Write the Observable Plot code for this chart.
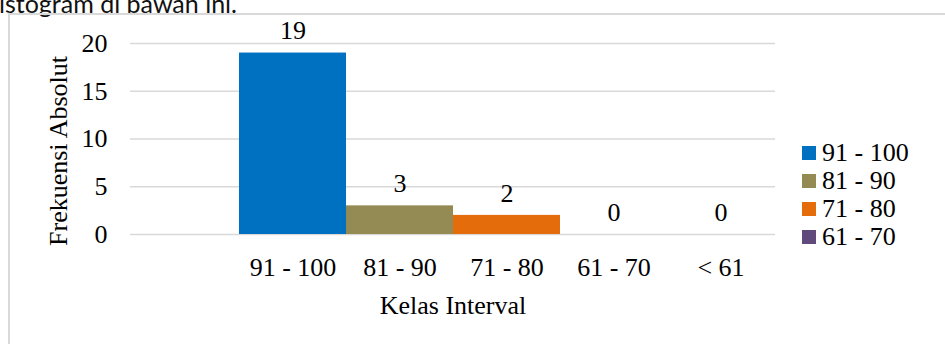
<!DOCTYPE html>
<html>
<head>
<meta charset="utf-8">
<script src="https://cdn.jsdelivr.net/npm/d3@7"></script>
<script src="https://cdn.jsdelivr.net/npm/@observablehq/plot@0.6"></script>
<style>
  html, body { margin: 0; padding: 0; background: #fff; }
  #wrap { position: relative; width: 945px; height: 344px; overflow: hidden; }
  #intro { position: absolute; left: -1px; top: -9px; font-family: Lato, "Open Sans", sans-serif; font-size: 25px; line-height: 25px; color: #111; white-space: nowrap; }
  #frame { position: absolute; left: 8px; top: 13px; width: 945px; height: 340px; border-left: 2px solid #d9d9d9; border-top: 2px solid #d9d9d9; }
  #chart { position: absolute; left: 0; top: 0; }
  #legend { position: absolute; left: 802px; top: 139px; font-family: "Liberation Serif", "Times New Roman", serif; font-size: 26px; color: #000; }
  .row { height: 28px; line-height: 28px; display: flex; align-items: center; white-space: nowrap; }
  .sw { width: 14px; height: 14px; margin-right: 6px; flex: none; }
</style>
</head>
<body>
<div id="wrap">
  <div id="intro">istogram di bawah ini.</div>
  <div id="frame"></div>
  <div id="chart"></div>
  <div id="legend"></div>
</div>
<script>
const categories = ["91 - 100", "81 - 90", "71 - 80", "61 - 70", "< 61"];
const values = [19, 3, 2, 0, 0];
const colors = ["#0070C0", "#948A54", "#E46C0A", "#604A7B", "#4BACC6"];
const legendItems = ["91 - 100", "81 - 90", "71 - 80", "61 - 70"];
const yTicks = [0, 5, 10, 15, 20];
const yTitle = "Frekuensi Absolut";
const xTitle = "Kelas Interval";

const data = categories.map((c, i) => ({cat: c, value: values[i]}));
const serif = "'Liberation Serif', 'Times New Roman', serif";

const chart = Plot.plot({
  width: 945,
  height: 344,
  marginLeft: 130,
  marginRight: 170,
  marginTop: 43,
  marginBottom: 110,
  style: {fontFamily: serif, fontSize: "26px", color: "#000", background: "transparent", overflow: "visible"},
  x: {type: "band", domain: ["", ...categories], padding: 0},
  y: {domain: [0, 20]},
  color: {domain: categories, range: colors},
  marks: [
    Plot.ruleY(yTicks, {stroke: "#d9d9d9", strokeWidth: 1.6}),
    Plot.barY(data, {x: "cat", y: "value", fill: "cat", inset: 0}),
    Plot.text(data, {x: "cat", y: "value", text: d => String(d.value), dy: -22, lineAnchor: "middle", fill: "#000"}),
    Plot.axisY({ticks: yTicks, tickSize: 0, tickPadding: 23, label: null}),
    Plot.axisX({ticks: categories, tickSize: 0, tickPadding: 23, label: null}),
    Plot.text([yTitle], {frameAnchor: "left", textAnchor: "middle", rotate: -90, dx: -72, dy: 12, lineAnchor: "middle", fill: "#000"}),
    Plot.text([xTitle], {frameAnchor: "bottom", dy: 71, lineAnchor: "middle", fill: "#000"})
  ]
});
document.getElementById("chart").appendChild(chart);

const legend = document.getElementById("legend");
legendItems.forEach(name => {
  const i = categories.indexOf(name);
  const row = document.createElement("div");
  row.className = "row";
  const sw = document.createElement("span");
  sw.className = "sw";
  sw.style.background = colors[i];
  const label = document.createElement("span");
  label.textContent = name;
  row.appendChild(sw);
  row.appendChild(label);
  legend.appendChild(row);
});
</script>
</body>
</html>
